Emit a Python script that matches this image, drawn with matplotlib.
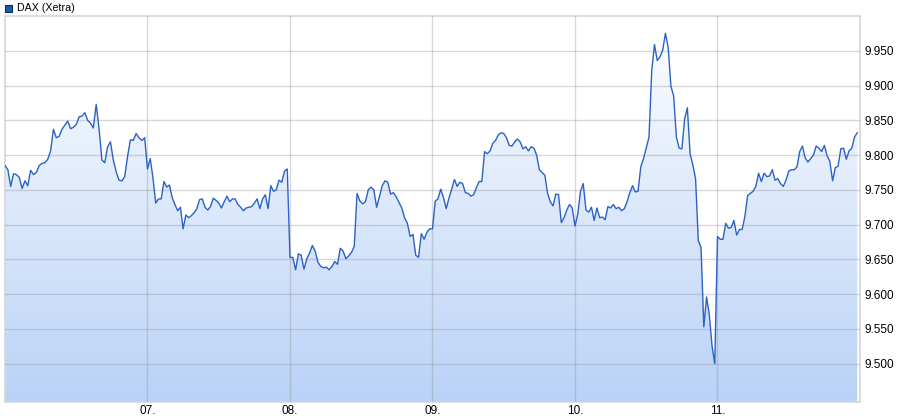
import numpy as np
import matplotlib
matplotlib.use("Agg")
import matplotlib.pyplot as plt
from matplotlib.colors import LinearSegmentedColormap
from matplotlib.patches import Rectangle

# DAX (Xetra) intraday, one list per trading day (10-min steps)
day06 = [9785, 9779, 9755, 9773, 9772, 9768, 9752, 9763, 9756, 9778,
         9772, 9775, 9785, 9788, 9789, 9794, 9806, 9837, 9825, 9827,
         9837, 9843, 9849, 9838, 9840, 9844, 9855, 9856, 9861, 9850,
         9846, 9839, 9873, 9838, 9793, 9789, 9812, 9819, 9793, 9776,
         9764, 9763, 9769, 9798, 9822, 9821, 9831, 9825, 9821, 9825]
day07 = [9780, 9795, 9767, 9731, 9737, 9737, 9762, 9754, 9757, 9739,
         9729, 9720, 9725, 9694, 9714, 9710, 9713, 9717, 9723, 9736,
         9737, 9725, 9721, 9726, 9738, 9735, 9731, 9724, 9733, 9741,
         9733, 9737, 9737, 9729, 9725, 9720, 9724, 9725, 9726, 9731,
         9737, 9723, 9737, 9743, 9723, 9756, 9748, 9750, 9764, 9761,
         9777, 9780]
day08 = [9653, 9653, 9635, 9658, 9656, 9636, 9651, 9659, 9670, 9662,
         9646, 9640, 9638, 9639, 9635, 9640, 9647, 9643, 9666, 9662,
         9651, 9655, 9660, 9669, 9745, 9734, 9730, 9733, 9750, 9754,
         9750, 9725, 9740, 9756, 9763, 9761, 9744, 9746, 9740, 9732,
         9724, 9710, 9702, 9683, 9686, 9656, 9653, 9687, 9679, 9689,
         9694]
day09 = [9694, 9734, 9737, 9751, 9739, 9723, 9738, 9751, 9765, 9755,
         9761, 9759, 9746, 9745, 9741, 9743, 9753, 9762, 9762, 9805,
         9802, 9806, 9817, 9821, 9829, 9832, 9831, 9825, 9814, 9813,
         9819, 9823, 9819, 9809, 9812, 9806, 9812, 9810, 9800, 9779,
         9775, 9771, 9745, 9733, 9727, 9744, 9743, 9703, 9710, 9721,
         9729, 9724]
day10 = [9698, 9715, 9748, 9759, 9721, 9718, 9725, 9706, 9724, 9710,
         9711, 9707, 9726, 9724, 9729, 9723, 9725, 9720, 9723, 9733,
         9746, 9756, 9747, 9748, 9783, 9795, 9810, 9826, 9921, 9959,
         9936, 9941, 9951, 9975, 9955, 9899, 9885, 9826, 9810, 9809,
         9852, 9868, 9802, 9786, 9766, 9677, 9667, 9553, 9596, 9571,
         9526, 9500]
day11 = [9683, 9679, 9679, 9702, 9695, 9696, 9706, 9685, 9693, 9693,
         9712, 9742, 9745, 9748, 9755, 9774, 9762, 9774, 9769, 9770,
         9779, 9764, 9766, 9759, 9755, 9764, 9777, 9779, 9779, 9783,
         9805, 9813, 9796, 9790, 9795, 9800, 9813, 9810, 9805, 9814,
         9799, 9791, 9763, 9782, 9784, 9809, 9810, 9794, 9806, 9810,
         9826, 9832]

day_labels = ["06.", "07.", "08.", "09.", "10.", "11."]
y_ticks = [9500, 9550, 9600, 9650, 9700, 9750, 9800, 9850, 9900, 9950]
y_min, y_max = 9445, 10000

days = [day06, day07, day08, day09, day10, day11]
t = np.concatenate([d + np.arange(len(v)) / len(v) for d, v in enumerate(days)])
price = np.concatenate(days).astype(float)

plt.rcParams['font.family'] = ['Liberation Sans', 'DejaVu Sans']

fig = plt.figure(figsize=(9, 4.2), dpi=100)
ax = fig.add_axes([5 / 900, 18 / 420, 855 / 900, 386 / 420])

# gradient fill under the line: white at the top, light blue at the bottom
cmap = LinearSegmentedColormap.from_list("fillgrad", ["#ffffff", "#b9d2f7"])
grad = np.linspace(0, 1, 256).reshape(-1, 1)
poly = ax.fill_between(t, price, y_min, color="none", lw=0)
img = ax.imshow(grad, cmap=cmap, aspect="auto", extent=[0, 6, y_min, y_max],
                origin="upper", zorder=1)
path = poly.get_paths()[0]
img.set_clip_path(path, transform=ax.transData)

ax.plot(t, price, color="#2b62c6", lw=1.0, zorder=3)

ax.set_xlim(0, 6)
ax.set_ylim(y_min, y_max)

ax.set_xticks(range(1, 6))
ax.set_xticklabels(day_labels[1:])
ax.set_yticks(y_ticks)
ax.set_yticklabels([f"{v:,.0f}".replace(",", ".") for v in y_ticks])
ax.yaxis.tick_right()
ax.tick_params(axis="both", length=0, labelsize=8.5, colors="#000000")
ax.tick_params(axis="y", pad=3)
ax.tick_params(axis="x", pad=2)

ax.grid(True, color="#909090", alpha=0.35, lw=1, zorder=2)
ax.set_axisbelow(False)
for s in ax.spines.values():
    s.set_color("#d6d6d6")
    s.set_linewidth(1.2)

# legend
fig.patches.append(Rectangle((5 / 900, 1 - 12 / 420), 7 / 900, 7 / 420,
                             transform=fig.transFigure, facecolor="#1f58b8",
                             edgecolor="#0c2c66", lw=0.8))
fig.text(17 / 900, 1 - 8 / 420, "DAX (Xetra)", fontsize=7.7, va="center", ha="left")

fig.savefig("out.png", dpi=100)
